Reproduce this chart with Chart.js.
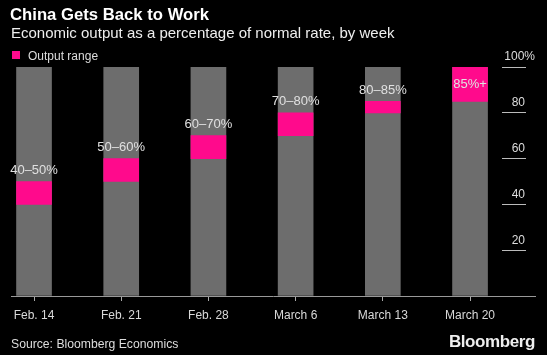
<!DOCTYPE html>
<html><head><meta charset="utf-8">
<script src="https://cdn.jsdelivr.net/npm/chart.js@4.4.1/dist/chart.umd.min.js"></script>
<style>
html,body{margin:0;padding:0;background:#000;width:547px;height:355px;overflow:hidden;}
#wrap{position:relative;width:547px;height:355px;}
canvas{position:absolute;left:0;top:0;}
.t{position:absolute;white-space:nowrap;color:#fff;font-family:"Liberation Sans",Arial,sans-serif;line-height:1;}
</style></head><body>
<div id="wrap">
<canvas id="c" width="547" height="355"></canvas>
<div class="t" style="left:10px;top:7px;font-size:16.7px;font-weight:bold;">China Gets Back to Work</div>
<div class="t" style="left:11px;top:25.3px;font-size:15px;color:#eee">Economic output as a percentage of normal rate, by week</div>
<div class="t" style="left:12px;top:51px;width:8px;height:8px;background:#ff0a8c"></div>
<div class="t" style="left:28px;top:49.8px;font-size:12px;color:#ddd">Output range</div>
<div class="t" style="left:11px;top:337.6px;font-size:12.2px;color:#ddd">Source: Bloomberg Economics</div>
<div class="t" style="right:12px;top:332.6px;font-size:17px;font-weight:bold;letter-spacing:-0.4px;color:#eee">Bloomberg</div>
</div>
<script>
const categories = ['Feb. 14','Feb. 21','Feb. 28','March 6','March 13','March 20'];
const lowValues = [40,50,60,70,80,85];
const highValues = [50,60,70,80,85,100];
const normalRate = [100,100,100,100,100,100];
const rangeLabels = ['40–50%','50–60%','60–70%','70–80%','80–85%','85%+'];
const yTicks = [0,20,40,60,80,100];

const FONT = '"Liberation Sans", Arial, sans-serif';
const rangeLabelPlugin = {
  id:'rangeLabels',
  afterDatasetsDraw(chart){
    const {ctx, scales:{x,y}} = chart;
    ctx.save();
    ctx.font = '13px ' + FONT;
    ctx.fillStyle = '#e0e0e0';
    ctx.textAlign = 'center';
    ctx.textBaseline = 'middle';
    rangeLabels.forEach((lab,i)=>{
      const px = x.getPixelForValue(i);
      const top = y.getPixelForValue(highValues[i]);
      const inside = highValues[i] >= y.max;
      ctx.fillText(lab, px, inside ? top + 17 : top - 11);
    });
    ctx.restore();
  }
};

new Chart(document.getElementById('c'), {
  type:'bar',
  data:{ datasets:[
    {label:'Normal rate', data: normalRate.map((v,i)=>({x:i,y:v})), backgroundColor:'#6d6d6d', order:2},
    {label:'Output range', data: lowValues.map((v,i)=>({x:i,y:[v,highValues[i]]})), backgroundColor:'#ff0a8c', order:1}
  ]},
  options:{
    responsive:false, animation:false,
    layout:{padding:{left:11,right:12,top:67,bottom:19}},
    datasets:{bar:{barThickness:35, grouped:false, borderWidth:0}},
    plugins:{legend:{display:false}, tooltip:{enabled:false}},
    scales:{
      x:{type:'linear', min:-0.264, max:5.745, offset:false,
         afterBuildTicks(s){ s.ticks = categories.map((c,i)=>({value:i})); },
         afterFit(s){ s.height = 40; },
         ticks:{callback:(v)=>categories[v], color:'#d9d9d9', font:{size:12, family:FONT}, padding:7, maxRotation:0, autoSkip:false},
         grid:{offset:false, drawOnChartArea:false, drawTicks:true, tickLength:5, tickColor:'#aaa'},
         border:{display:true, color:'#999', width:1}
      },
      y:{type:'linear', axis:'y', min:0, max:100, position:{x:5.642},
         ticks:{display:false, stepSize:20},
         grid:{drawOnChartArea:false, drawTicks:true, tickLength:24, tickColor:'#bbb'},
         border:{display:false}
      },
      y2:{type:'linear', axis:'y', min:0, max:100, position:{x:5.745},
         afterBuildTicks(s){ s.ticks = yTicks.map(v=>({value:v})); },
         ticks:{callback:(v)=> v===0 ? '' : (v===100 ? v+'%' : v+'   '), color:'#ddd', font:{size:12, family:FONT}, labelOffset:-10, padding:0},
         grid:{display:false}, border:{display:false}
      }
    }
  },
  plugins:[rangeLabelPlugin]
});
</script>
</body></html>
